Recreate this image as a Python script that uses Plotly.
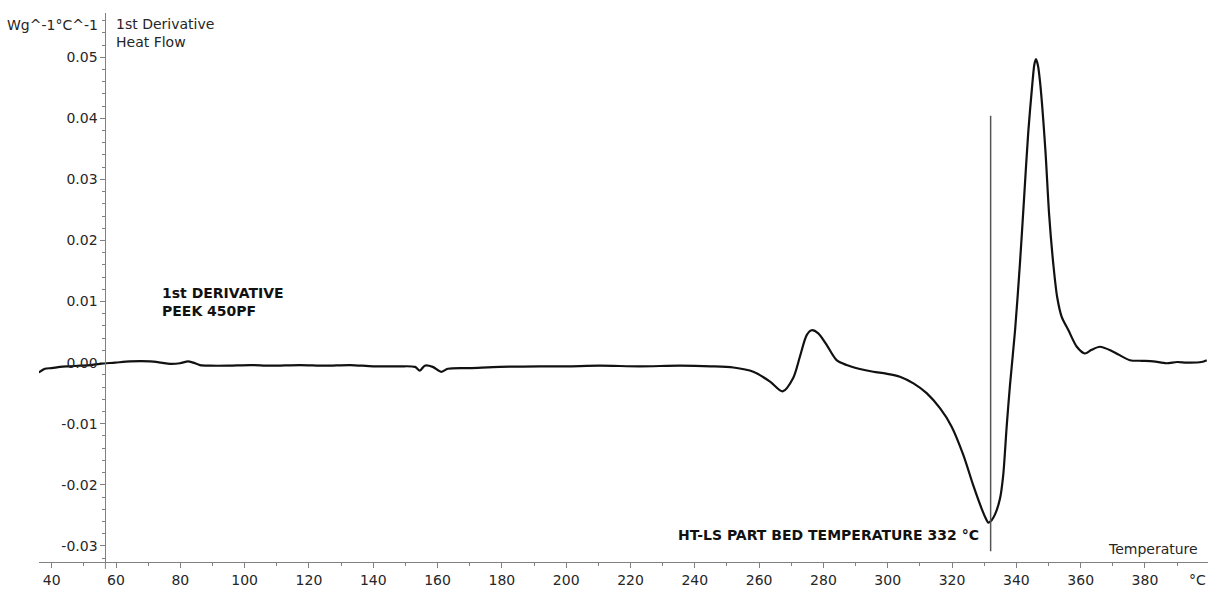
import plotly.graph_objects as go

# First-derivative heat flow trace (temperature in °C, dHF/dT in W g^-1 °C^-1)
temperature_c = [
    36.0, 37.9, 40.0, 42.6, 45.5, 48.8, 52.0, 55.0, 59.7, 64.3, 70.6, 74.0, 76.8,
    79.9, 82.4, 84.0, 86.1, 89.2, 95.0, 101.7, 108.0, 117.2, 125.0, 132.8, 140.0,
    148.3, 153.0, 154.5, 156.0, 158.5, 161.1, 163.2, 170.0, 179.4, 191.8, 200.0,
    210.4, 222.9, 235.4, 245.0, 252.0, 258.2, 263.4, 267.3, 270.6, 272.7, 274.8,
    276.3, 278.4, 281.0, 284.1, 287.2, 291.0, 295.5, 299.5, 303.8, 308.0, 312.1,
    316.3, 319.8, 323.5, 326.6, 329.2, 330.4, 331.3, 332.3, 333.4, 334.9, 335.9,
    337.0, 338.0, 339.6, 341.1, 342.4, 343.7, 345.0, 345.6, 346.1, 346.7, 347.4,
    349.0, 350.2, 351.5, 352.7, 354.1, 356.2, 358.8, 361.3, 363.4, 366.0, 370.1,
    375.3, 379.0, 382.6, 386.7, 390.0, 393.0, 397.6, 399.2,
]
derivative = [
    -0.0016, -0.0010, -0.0009, -0.0007, -0.0006, -0.0005, -0.0004, -0.0002, 0.0000,
    0.0002, 0.0002, 0.0000, -0.0002, -0.0001, 0.0002, 0.0000, -0.0004, -0.0005,
    -0.0005, -0.0004, -0.0005, -0.0004, -0.0005, -0.0004, -0.0006, -0.0006, -0.0007,
    -0.0013, -0.0005, -0.0007, -0.0015, -0.0010, -0.0009, -0.0007, -0.0006, -0.0006,
    -0.0005, -0.0006, -0.0005, -0.0006, -0.0008, -0.0015, -0.0031, -0.0047, -0.0025,
    0.0010, 0.0045, 0.0053, 0.0048, 0.0029, 0.0004, -0.0004, -0.0010, -0.0015,
    -0.0018, -0.0023, -0.0034, -0.0050, -0.0075, -0.0104, -0.0151, -0.0201, -0.0239,
    -0.0254, -0.0262, -0.0258, -0.0248, -0.0223, -0.0185, -0.0104, -0.0038, 0.0053,
    0.0161, 0.0269, 0.0377, 0.0458, 0.0488, 0.0497, 0.0487, 0.0458, 0.0350, 0.0242,
    0.0161, 0.0107, 0.0075, 0.0053, 0.0026, 0.0015, 0.0021, 0.0026, 0.0018, 0.0004,
    0.0003, 0.0002, -0.0001, 0.0001, 0.0000, 0.0001, 0.0004,
]

x_ticks = [40, 60, 80, 100, 120, 140, 160, 180, 200, 220, 240, 260, 280, 300,
           320, 340, 360, 380]
y_ticks = [-0.03, -0.02, -0.01, 0.00, 0.01, 0.02, 0.03, 0.04, 0.05]
y_tick_labels = ["-0.03", "-0.02", "-0.01", "0.00", "0.01", "0.02", "0.03",
                 "0.04", "0.05"]

bed_temperature = 332
x_range = [36.05, 399.6]
y_range = [-0.03264, 0.05724]
y_axis_at = 56.7  # temperature where the ordinate axis crosses

AXIS = "#808080"
TEXT = "#262626"
FONT = "DejaVu Sans"
SIZE = 14

fig = go.Figure()
fig.add_trace(go.Scatter(
    x=temperature_c, y=derivative, mode="lines",
    line=dict(color="#111111", width=2.2, shape="spline", smoothing=0.8),
    hoverinfo="skip", showlegend=False,
))

# marker line at the part bed temperature
fig.add_shape(type="line", xref="x", yref="y",
              x0=bed_temperature, x1=bed_temperature, y0=-0.0309, y1=0.0404,
              line=dict(color="#555555", width=1.5))
# short continuation of the ordinate below the abscissa
fig.add_shape(type="line", xref="x", yref="paper",
              x0=y_axis_at, x1=y_axis_at, y0=0, y1=-0.0126,
              line=dict(color=AXIS, width=1))

y_pos = (y_axis_at - x_range[0]) / (x_range[1] - x_range[0])

fig.update_layout(
    width=1213, height=593,
    margin=dict(l=39, r=5, t=13, b=26),
    paper_bgcolor="white", plot_bgcolor="white",
    font=dict(family=FONT, size=SIZE, color=TEXT),
    xaxis=dict(
        range=x_range, showgrid=False, zeroline=False,
        showline=True, linecolor=AXIS, linewidth=1,
        tickmode="array", tickvals=x_ticks,
        ticks="outside", ticklen=5, tickcolor=AXIS,
        minor=dict(tickmode="linear", tick0=0, dtick=10, ticks="outside",
                   ticklen=3, tickcolor=AXIS),
        tickfont=dict(family=FONT, size=SIZE, color=TEXT),
        anchor="y",
    ),
    yaxis=dict(
        range=y_range, showgrid=False, zeroline=False,
        showline=True, linecolor=AXIS, linewidth=1,
        anchor="free", position=y_pos,
        tickmode="array", tickvals=y_ticks, ticktext=y_tick_labels,
        ticks="outside", ticklen=5, tickcolor=AXIS,
        minor=dict(tickmode="linear", tick0=0, dtick=0.002, ticks="outside",
                   ticklen=3, tickcolor=AXIS),
        tickfont=dict(family=FONT, size=SIZE, color=TEXT),
    ),
)

annotations = [
    dict(text="Wg^-1°C^-1", xref="paper", yref="paper", x=0.0525, y=0.979,
         xanchor="right", yanchor="middle", font=dict(size=SIZE)),
    dict(text="1st Derivative<br>Heat Flow", xref="paper", yref="paper",
         x=0.0645, y=0.9975, xanchor="left", yanchor="top", align="left",
         font=dict(size=SIZE)),
    dict(text="<b>1st DERIVATIVE</b><br><b>PEEK 450PF</b>", xref="x", yref="y",
         x=73.7, y=0.0099, xanchor="left", yanchor="middle", align="left",
         font=dict(size=SIZE, color="#111111")),
    dict(text=f"<b>HT-LS PART BED TEMPERATURE {bed_temperature} °C</b>",
         xref="x", yref="y", x=328.9, y=-0.0282, xanchor="right",
         yanchor="middle", font=dict(size=SIZE, color="#111111")),
    dict(text="Temperature", xref="paper", yref="paper", x=0.993, y=0.0235,
         xanchor="right", yanchor="middle", font=dict(size=SIZE)),
    dict(text="°C", xref="paper", yref="paper", x=0.9906, y=-0.0335,
         xanchor="center", yanchor="middle", font=dict(size=SIZE)),
]
for a in annotations:
    a["showarrow"] = False
    fig.add_annotation(**a)

fig.write_html("out.html")
